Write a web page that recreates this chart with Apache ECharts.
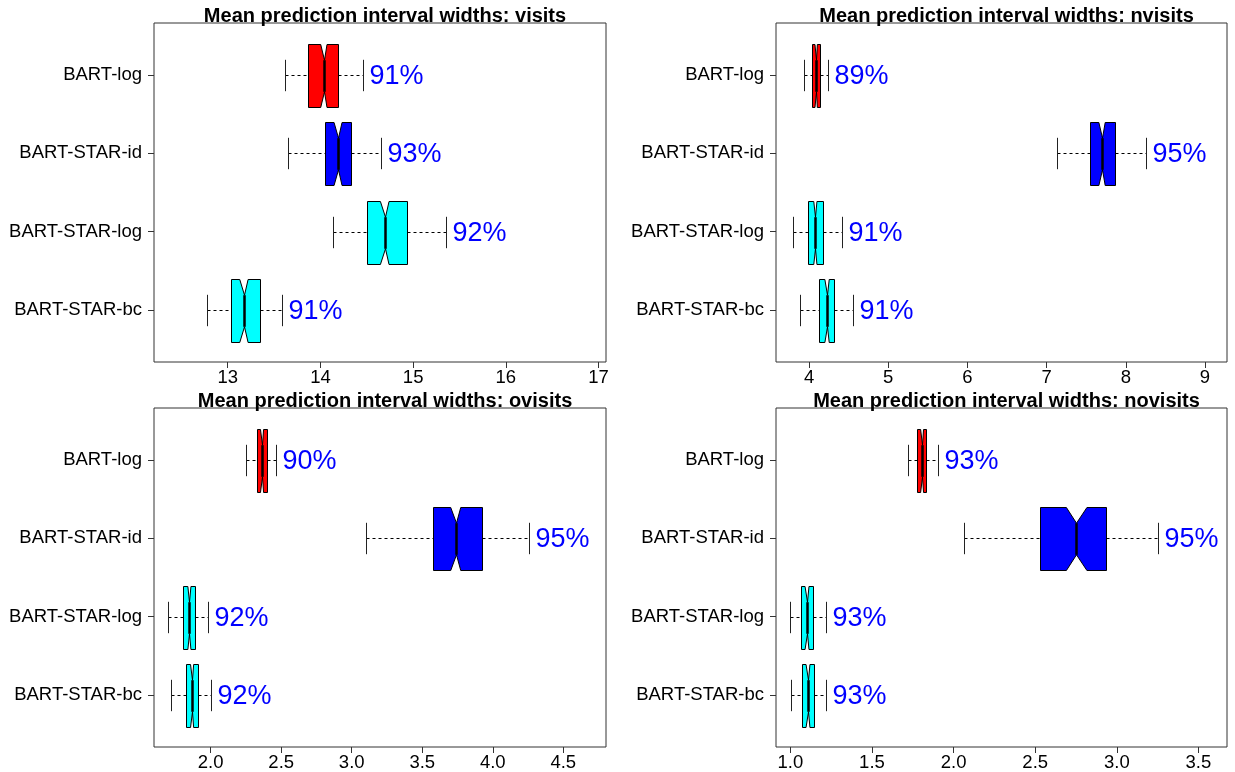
<!DOCTYPE html>
<html>
<head>
<meta charset="utf-8">
<script src="https://cdn.jsdelivr.net/npm/echarts@6/dist/echarts.min.js"></script>
<style>
  html, body { margin: 0; padding: 0; background: #ffffff; }
  #chart { width: 1235px; height: 772px; }
</style>
</head>
<body>
<div id="chart"></div>
<script>
// Methods compared, listed from the top row down
const methods = ['BART-log', 'BART-STAR-id', 'BART-STAR-log', 'BART-STAR-bc'];
const methodColors = ['#FF0000', '#0000FF', '#00FFFF', '#00FFFF'];
const responses = ['visits', 'nvisits', 'ovisits', 'novisits'];

// Per method: [lower whisker, Q1, notch low, median, notch high, Q3, upper whisker]
const visitsStats = [
  [13.615, 13.866, 14.003, 14.036, 14.071, 14.190, 14.460],
  [13.647, 14.046, 14.147, 14.190, 14.233, 14.327, 14.658],
  [14.133, 14.503, 14.647, 14.694, 14.740, 14.930, 15.359],
  [12.781, 13.032, 13.130, 13.173, 13.220, 13.353, 13.590]
];
const nvisitsStats = [
  [3.940, 4.040, 4.075, 4.090, 4.105, 4.140, 4.240],
  [7.130, 7.550, 7.660, 7.700, 7.740, 7.870, 8.250],
  [3.800, 3.990, 4.060, 4.080, 4.100, 4.180, 4.420],
  [3.890, 4.120, 4.200, 4.227, 4.255, 4.310, 4.550]
];
const ovisitsStats = [
  [2.248, 2.329, 2.353, 2.364, 2.375, 2.397, 2.466],
  [3.102, 3.574, 3.702, 3.737, 3.773, 3.921, 4.259],
  [1.695, 1.806, 1.838, 1.849, 1.860, 1.889, 1.983],
  [1.721, 1.825, 1.857, 1.868, 1.879, 1.910, 2.005]
];
const novisitsStats = [
  [1.721, 1.776, 1.798, 1.807, 1.816, 1.831, 1.907],
  [2.064, 2.528, 2.691, 2.752, 2.817, 2.936, 3.251],
  [0.998, 1.065, 1.090, 1.102, 1.114, 1.139, 1.217],
  [1.006, 1.071, 1.096, 1.108, 1.120, 1.145, 1.221]
];

// Empirical coverage of the prediction intervals (%)
const visitsCoverage = [91, 93, 92, 91];
const nvisitsCoverage = [89, 95, 91, 91];
const ovisitsCoverage = [90, 95, 92, 92];
const novisitsCoverage = [93, 95, 93, 93];

// Axis ticks and limits for each panel
const visitsTicks = [13, 14, 15, 16, 17];
const nvisitsTicks = [4, 5, 6, 7, 8, 9];
const ovisitsTicks = [2.0, 2.5, 3.0, 3.5, 4.0, 4.5];
const novisitsTicks = [1.0, 1.5, 2.0, 2.5, 3.0, 3.5];
const tickDecimals = [0, 0, 1, 1];
const xLimits = [[12.205, 17.08], [3.583, 9.278], [1.598, 4.803], [0.912, 3.675]];
const yLimits = [0.34, 4.66];

const panelStats = [visitsStats, nvisitsStats, ovisitsStats, novisitsStats];
const panelCoverage = [visitsCoverage, nvisitsCoverage, ovisitsCoverage, novisitsCoverage];
const panelTicks = [visitsTicks, nvisitsTicks, ovisitsTicks, novisitsTicks];

const FONT = "'Liberation Sans', Arial, Helvetica, sans-serif";

const grids = [
  { left: 154, top: 23, width: 452, height: 339 },
  { left: 776, top: 23, width: 451, height: 339 },
  { left: 154, top: 408, width: 452, height: 339 },
  { left: 776, top: 408, width: 451, height: 339 }
];

const crisp = v => Math.round(v) + 0.5;

// Horizontal notched box with dashed whiskers, staples and coverage label
function renderBox(params, api) {
  const row = api.value(0);
  const low = api.value(1), q1 = api.value(2), nlo = api.value(3), med = api.value(4),
        nhi = api.value(5), q3 = api.value(6), high = api.value(7), cov = api.value(8);
  const X = x => api.coord([x, row])[0];
  const cy = crisp(api.coord([med, row])[1]);
  const half = Math.abs(api.size([0, 0.4])[1]);
  const top = Math.round(cy - half) + 0.5, bot = Math.round(cy + half) + 0.5;
  const inset = half / 2;
  const color = methodColors[params.dataIndex];
  const xl = crisp(X(low)), x1 = crisp(X(q1)), xnl = X(nlo), xm = crisp(X(med)), xnh = X(nhi),
        x3 = crisp(X(q3)), xh = crisp(X(high));
  const dash = { stroke: '#000', lineWidth: 1, lineDash: [3, 3] };
  const solid = { stroke: '#222', lineWidth: 1 };
  return {
    type: 'group',
    children: [
      { type: 'line', shape: { x1: xl, y1: cy, x2: x1, y2: cy }, style: dash },
      { type: 'line', shape: { x1: x3, y1: cy, x2: xh, y2: cy }, style: dash },
      { type: 'line', shape: { x1: xl, y1: cy - half / 2, x2: xl, y2: cy + half / 2 }, style: solid },
      { type: 'line', shape: { x1: xh, y1: cy - half / 2, x2: xh, y2: cy + half / 2 }, style: solid },
      {
        type: 'polygon',
        shape: {
          points: [
            [x1, top], [xnl, top], [xm, top + inset], [xnh, top], [x3, top],
            [x3, bot], [xnh, bot], [xm, bot - inset], [xnl, bot], [x1, bot]
          ]
        },
        style: { fill: color, stroke: '#000', lineWidth: 1 }
      },
      { type: 'line', shape: { x1: xm, y1: top + inset, x2: xm, y2: bot - inset },
        style: { stroke: '#000', lineWidth: 2.5 } },
      {
        type: 'text',
        style: {
          text: cov + '%', x: xh + 6, y: cy + 1,
          fill: '#0000FF', fontSize: 27, fontFamily: FONT,
          align: 'left', verticalAlign: 'middle'
        }
      }
    ]
  };
}

const option = {
  backgroundColor: '#ffffff',
  animation: false,
  title: responses.map((r, i) => ({
    text: 'Mean prediction interval widths: ' + r,
    left: grids[i].left + grids[i].width / 2,
    top: grids[i].top - 22,
    textAlign: 'center',
    textStyle: { fontSize: 20, fontWeight: 'bold', color: '#000', fontFamily: FONT }
  })),
  grid: grids.map(g => Object.assign({ show: true, borderColor: '#333', borderWidth: 1,
    backgroundColor: 'transparent', containLabel: false }, g)),
  xAxis: panelTicks.map((ticks, i) => ({
    type: 'value', gridIndex: i,
    min: xLimits[i][0], max: xLimits[i][1],
    axisLine: { show: false },
    splitLine: { show: false },
    axisTick: { show: true, length: 6, customValues: ticks, lineStyle: { color: '#333' } },
    axisLabel: {
      customValues: ticks, margin: 6,
      formatter: v => Number(v).toFixed(tickDecimals[i]),
      fontSize: 18.5, color: '#000', fontFamily: FONT
    }
  })),
  yAxis: panelTicks.map((_, i) => ({
    type: 'value', gridIndex: i,
    min: yLimits[0], max: yLimits[1],
    axisLine: { show: false },
    splitLine: { show: false },
    axisTick: { show: true, length: 6, customValues: [1, 2, 3, 4], lineStyle: { color: '#333' } },
    axisLabel: {
      customValues: [1, 2, 3, 4], margin: 12,
      formatter: v => methods[methods.length - Math.round(v)],
      fontSize: 18.5, color: '#000', fontFamily: FONT
    }
  })),
  series: panelStats.map((stats, i) => ({
    type: 'custom',
    xAxisIndex: i, yAxisIndex: i,
    renderItem: renderBox,
    clip: false,
    encode: { x: [1, 2, 3, 4, 5, 6, 7], y: 0 },
    data: stats.map((s, k) => [methods.length - k].concat(s, [panelCoverage[i][k]]))
  }))
};

const chart = echarts.init(document.getElementById('chart'), null, { renderer: 'canvas' });
chart.setOption(option);
</script>
</body>
</html>
